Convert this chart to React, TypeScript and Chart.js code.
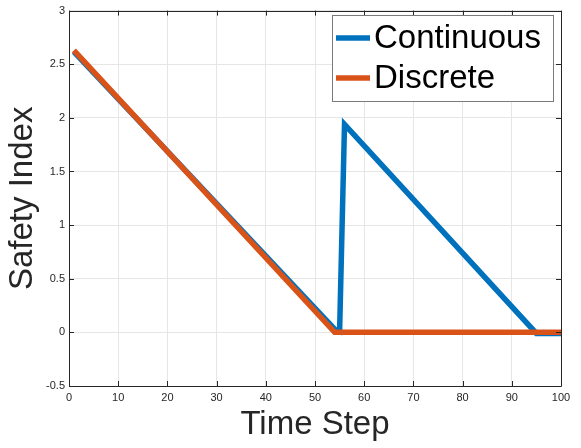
import React, { useEffect, useRef } from "react";
import { Chart, registerables } from "chart.js";

Chart.register(...registerables);

// Data (vertices of the piecewise-linear series)
const continuousX = [1, 54, 55, 56, 95, 100];
const continuousY = [2.615, 0.03, 0.01, 1.94, -0.01, -0.01];
const discreteX = [1, 54, 100];
const discreteY = [2.63, 0, 0];

const seriesNames = ["Continuous", "Discrete"];
const seriesColors = ["#0072BD", "#D95319"];

const xTitle = "Time Step";
const yTitle = "Safety Index";
const xMin = 0, xMax = 100, xStep = 10;
const yMin = -0.5, yMax = 3, yStep = 0.5;

const FONT = "'Liberation Sans', Arial, Helvetica, sans-serif";
const AXIS_COLOR = "#262626";

const framePlugin = {
  id: "frameAndLegend",
  afterDraw(chart: any) {
    const { ctx, chartArea } = chart;
    const { left, right, top, bottom } = chartArea;
    const xs = chart.scales.x;
    const ys = chart.scales.y;
    ctx.save();
    // frame
    ctx.strokeStyle = AXIS_COLOR;
    ctx.lineWidth = 1;
    ctx.beginPath();
    ctx.rect(Math.round(left) + 0.5, Math.round(top) + 0.5, Math.round(right - left), Math.round(bottom - top));
    ctx.stroke();
    // inward ticks
    const tl = 5;
    ctx.beginPath();
    xs.ticks.forEach((t: any) => {
      const px = Math.round(xs.getPixelForValue(t.value)) + 0.5;
      ctx.moveTo(px, bottom);
      ctx.lineTo(px, bottom - tl);
      ctx.moveTo(px, top);
      ctx.lineTo(px, top + tl);
    });
    ys.ticks.forEach((t: any) => {
      const py = Math.round(ys.getPixelForValue(t.value)) + 0.5;
      ctx.moveTo(left, py);
      ctx.lineTo(left + tl, py);
      ctx.moveTo(right, py);
      ctx.lineTo(right - tl, py);
    });
    ctx.stroke();

    // legend box
    const bx = 332, by = 15, bw = 221, bh = 86;
    ctx.fillStyle = "#ffffff";
    ctx.fillRect(bx, by, bw, bh);
    ctx.strokeStyle = "#7a7a7a";
    ctx.lineWidth = 1;
    ctx.strokeRect(bx + 0.5, by + 0.5, bw, bh);
    const rows = [38, 78];
    seriesNames.forEach((name, i) => {
      const y = rows[i];
      ctx.strokeStyle = seriesColors[i];
      ctx.lineWidth = 5.5;
      ctx.beginPath();
      ctx.moveTo(336, y);
      ctx.lineTo(370, y);
      ctx.stroke();
      ctx.fillStyle = "#000000";
      ctx.font = `33px ${FONT}`;
      ctx.textBaseline = "middle";
      ctx.textAlign = "left";
      ctx.fillText(name, 374, y + 1);
    });
    ctx.restore();
  },
};

export default function App() {
  const ref = useRef<HTMLCanvasElement | null>(null);
  useEffect(() => {
    document.body.style.margin = "0";
    const canvas = ref.current;
    if (!canvas) return;
    const chart = new Chart(canvas, {
      type: "line",
      data: {
        datasets: [
          {
            label: seriesNames[0],
            data: continuousX.map((x, i) => ({ x, y: continuousY[i] })),
            borderColor: seriesColors[0],
            backgroundColor: seriesColors[0],
            borderWidth: 5.5,
            pointRadius: 0,
            tension: 0,
            order: 2,
          },
          {
            label: seriesNames[1],
            data: discreteX.map((x, i) => ({ x, y: discreteY[i] })),
            borderColor: seriesColors[1],
            backgroundColor: seriesColors[1],
            borderWidth: 5.5,
            pointRadius: 0,
            tension: 0,
            order: 1,
          },
        ],
      },
      options: {
        animation: false,
        responsive: false,
        devicePixelRatio: 1,
        layout: { padding: { top: 7, right: 20, left: 0, bottom: 0 } },
        plugins: { legend: { display: false }, tooltip: { enabled: false } },
        scales: {
          x: {
            type: "linear",
            min: xMin,
            max: xMax,
            ticks: {
              stepSize: xStep,
              color: AXIS_COLOR,
              font: { family: FONT, size: 11 },
              padding: 5,
              maxRotation: 0,
              callback: (v: any) => String(v),
            },
            grid: { color: "#e6e6e6", drawTicks: false },
            border: { display: false },
            title: {
              display: true,
              text: xTitle,
              color: AXIS_COLOR,
              font: { family: FONT, size: 33 },
              padding: { top: 0, bottom: 3 },
            },
            afterFit: (s: any) => {
              s.height = 62;
            },
          },
          y: {
            type: "linear",
            min: yMin,
            max: yMax,
            ticks: {
              stepSize: yStep,
              color: AXIS_COLOR,
              font: { family: FONT, size: 11 },
              padding: 4,
              callback: (v: any) => String(v),
            },
            grid: { color: "#e6e6e6", drawTicks: false },
            border: { display: false },
            title: {
              display: true,
              text: yTitle,
              color: AXIS_COLOR,
              font: { family: FONT, size: 33 },
              padding: { top: 3, bottom: 0 },
            },
            afterFit: (s: any) => {
              s.width = 69;
            },
          },
        },
      },
      plugins: [framePlugin],
    });
    return () => chart.destroy();
  }, []);
  return (
    <div style={{ width: 581, height: 448, background: "#fff" }}>
      <canvas ref={ref} width={581} height={448} style={{ display: "block" }} />
    </div>
  );
}
